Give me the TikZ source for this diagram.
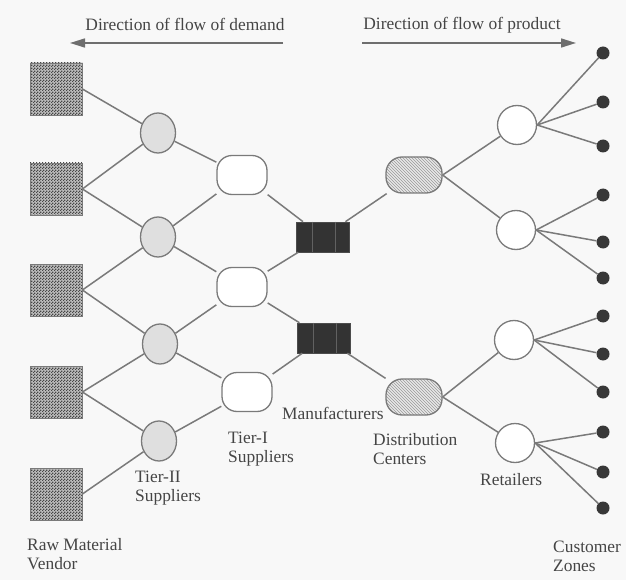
\documentclass[tikz,border=0pt]{standalone}
\usepackage{fontspec}
\setmainfont{Liberation Serif}
\usetikzlibrary{shapes.geometric,patterns,arrows.meta,calc}
\definecolor{ink}{HTML}{454545}
\definecolor{wire}{HTML}{7A7A7A}
\definecolor{paper}{HTML}{F8F8F8}
% small checks for the vendor boxes
\pgfdeclarepatternformonly{finechecks}{\pgfpointorigin}{\pgfqpoint{3pt}{3pt}}{\pgfqpoint{3pt}{3pt}}{%
  \pgfpathrectangle{\pgfpointorigin}{\pgfqpoint{1.5pt}{1.5pt}}%
  \pgfpathrectangle{\pgfqpoint{1.5pt}{1.5pt}}{\pgfqpoint{1.5pt}{1.5pt}}%
  \pgfusepath{fill}}
\begin{document}
\begin{tikzpicture}[x=1pt,y=-1pt,
  every node/.style={font=\fontsize{17.4}{19}\selectfont, text=ink},
  link/.style={draw=wire, line width=1.5pt},
  flowarrow/.style={draw=wire!90!black, line width=1.6pt, -{Triangle[length=15pt,width=9pt]}},
  vendor/.style={rectangle, draw=wire, line width=0.8pt, minimum size=52pt, inner sep=0pt,
    preaction={fill=gray!52}, pattern=finechecks, pattern color=black!72},
  tiertwo/.style={ellipse, draw=wire, line width=1.3pt, fill=gray!25,
    minimum width=35pt, minimum height=40pt, inner sep=0pt},
  tierone/.style={rectangle, rounded corners=15pt, draw=wire, line width=1.3pt, fill=white,
    minimum width=50pt, minimum height=39pt, inner sep=0pt},
  plant/.style={rectangle, fill=black!80, draw=black!70, line width=0.6pt,
    minimum width=53pt, minimum height=30pt, inner sep=0pt},
  depot/.style={rectangle, rounded corners=16pt, draw=wire, line width=1.3pt,
    preaction={fill=gray!18}, pattern=north west lines, pattern color=gray!80,
    minimum width=56pt, minimum height=36pt, inner sep=0pt},
  shop/.style={circle, draw=wire, line width=1.3pt, fill=white, minimum size=39pt, inner sep=0pt},
  zone/.style={circle, fill=black!78, minimum size=13pt, inner sep=0pt},
  caption/.style={align=left, inner sep=0pt, anchor=west}
]
% page
\fill[paper] (0,0) rectangle (626,580);
\useasboundingbox (0,0) rectangle (626,580);

% flow directions
\node (demand) at (185,24) {Direction of flow of demand};
\node (product) at (462,25) {Direction of flow of product};
\coordinate (demandtail) at (283,43);
\coordinate (demandtip) at (70,43);
\coordinate (producttail) at (362,43);
\coordinate (producttip) at (576,43);
\draw[flowarrow] (demandtail) -- (demandtip);
\draw[flowarrow] (producttail) -- (producttip);

% raw material vendors
\node[vendor] (v1) at (56,89) {};
\node[vendor] (v2) at (56,189) {};
\node[vendor] (v3) at (56,290) {};
\node[vendor] (v4) at (56,392) {};
\node[vendor] (v5) at (56,494) {};

% tier-II suppliers
\node[tiertwo] (a1) at (158,133) {};
\node[tiertwo] (a2) at (158,237) {};
\node[tiertwo] (a3) at (160,344) {};
\node[tiertwo] (a4) at (159,441) {};

% tier-I suppliers
\node[tierone] (b1) at (242,175) {};
\node[tierone] (b2) at (242,287) {};
\node[tierone] (b3) at (247,392) {};

% manufacturers
\node[plant] (m1) at (323,237) {};
\node[plant] (m2) at (324,338) {};
\foreach \m in {m1,m2}{
  \draw[black!62, line width=0.5pt] ($(\m.north west)!0.3!(\m.north east)$) -- ($(\m.south west)!0.3!(\m.south east)$);
  \draw[black!62, line width=0.5pt] ($(\m.north west)!0.72!(\m.north east)$) -- ($(\m.south west)!0.72!(\m.south east)$);
}

% distribution centers
\node[depot] (d1) at (414,175) {};
\node[depot] (d2) at (414,397) {};

% retailers
\node[shop] (r1) at (517,125) {};
\node[shop] (r2) at (516,230) {};
\node[shop] (r3) at (514,340) {};
\node[shop] (r4) at (515,443) {};

% customer zones
\foreach \i/\y in {1/53,2/102,3/146,4/195,5/242,6/278,7/316,8/354,9/392,10/432,11/472,12/508}
  \node[zone] (z\i) at (603,\y) {};

% links
\foreach \v/\a in {v1/a1,v2/a1,v2/a2,v3/a2,v3/a3,v4/a3,v4/a4,v5/a4}
  \draw[link] (\v.east) -- (\a);
\foreach \a/\b in {a1/b1,a2/b1,a2/b2,a3/b2,a3/b3,a4/b3}
  \draw[link] (\a) -- (\b);
\foreach \b/\m in {b1/m1,b2/m1,b2/m2,b3/m2}
  \draw[link] (\b) -- (\m);
\draw[link] (m1) -- (d1);
\draw[link] (m2) -- (d2);
\foreach \d/\r in {d1/r1,d1/r2,d2/r3,d2/r4}
  \draw[link] (\d.east) -- (\r);
\foreach \r/\z in {r1/z1,r1/z2,r1/z3,r2/z4,r2/z5,r2/z6,r3/z7,r3/z8,r3/z9,r4/z10,r4/z11,r4/z12}
  \draw[link] (\r.east) -- (\z);

% tier captions
\node[caption] (capv) at (27,554) {Raw Material\\Vendor};
\node[caption] (capa) at (135,488) {Tier-II\\Suppliers};
\node[caption] (capb) at (228,449) {Tier-I\\Suppliers};
\node[caption] (capm) at (282,413) {Manufacturers};
\node[caption] (capd) at (373,449) {Distribution\\Centers};
\node[caption] (capr) at (480,480) {Retailers};
\node[caption] (capz) at (553,556) {Customer\\Zones};
\end{tikzpicture}
\end{document}
